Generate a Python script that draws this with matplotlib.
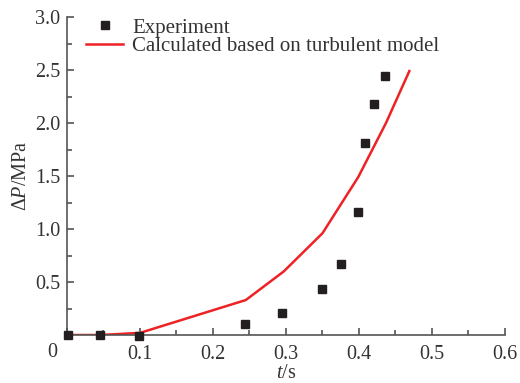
import matplotlib
matplotlib.use("Agg")
import matplotlib.pyplot as plt
from matplotlib.ticker import MultipleLocator, FixedLocator

plt.rcParams['font.family'] = ['Liberation Serif', 'DejaVu Serif']
plt.rcParams['mathtext.fontset'] = 'custom'
plt.rcParams['mathtext.rm'] = 'Liberation Serif'
plt.rcParams['mathtext.it'] = 'Liberation Serif:italic'

exp_t = [0.002, 0.045, 0.098, 0.244, 0.295, 0.350, 0.376, 0.398, 0.408, 0.420, 0.435]
exp_p = [0.0, 0.0, -0.01, 0.10, 0.21, 0.43, 0.67, 1.16, 1.81, 2.18, 2.44]

calc_t = [0.0, 0.045, 0.10, 0.245, 0.297, 0.350, 0.399, 0.437, 0.469]
calc_p = [0.0, 0.0, 0.02, 0.33, 0.60, 0.96, 1.49, 2.00, 2.49]

x_ticks = [0.0, 0.1, 0.2, 0.3, 0.4, 0.5, 0.6]
x_labels = ['', '0.1', '0.2', '0.3', '0.4', '0.5', '0.6']
y_ticks = [0.5, 1.0, 1.5, 2.0, 2.5, 3.0]
y_labels = ['0.5', '1.0', '1.5', '2.0', '2.5', '3.0']

FS = 14.5

fig = plt.figure(figsize=(5.2, 3.83), dpi=100)
ax = fig.add_axes([0.1288, 0.1253, 0.8423, 0.8303])

ax.plot(calc_t, calc_p, color='#ee2224', lw=1.8, label='Calculated based on turbulent model', zorder=2)
ax.plot(exp_t, exp_p, ls='none', marker='s', ms=6, color='#231f20', label='Experiment', zorder=3, clip_on=False)

ax.set_xlim(0, 0.6)
ax.set_ylim(0, 3.0)
ax.xaxis.set_major_locator(FixedLocator(x_ticks))
ax.set_xticklabels(x_labels)
ax.yaxis.set_major_locator(FixedLocator(y_ticks))
ax.set_yticklabels(y_labels)
ax.xaxis.set_minor_locator(MultipleLocator(0.05))
ax.yaxis.set_minor_locator(MultipleLocator(0.25))

for s in ['top', 'right']:
    ax.spines[s].set_visible(False)
for s in ['left', 'bottom']:
    ax.spines[s].set_color('#555555')
    ax.spines[s].set_linewidth(1.2)

ax.tick_params(which='both', direction='in', color='#555555', labelcolor='#333333', labelsize=FS)
ax.tick_params(axis='x', which='major', length=5, width=1.2, pad=7)
ax.tick_params(axis='y', which='major', length=5, width=1.2, pad=5)
ax.tick_params(which='minor', length=3.5, width=1.2)

ax.text(-0.033, -0.165, '0', transform=ax.get_yaxis_transform(), fontsize=FS, color='#333333',
        ha='center', va='center')

ax.set_xlabel('$t$/s', fontsize=FS, color='#333333', labelpad=0)
ax.set_ylabel(r'$\Delta P$/MPa', fontsize=FS, color='#333333', labelpad=3)

h, l = ax.get_legend_handles_labels()
ax.legend(h[::-1], l[::-1], loc='upper left', bbox_to_anchor=(0.043, 0.997), frameon=False,
          fontsize=15, handlelength=1.8, handletextpad=0.42, labelspacing=-0.05, borderpad=0.0,
          borderaxespad=0.0, labelcolor='#333333')

fig.savefig('out.png', dpi=100)
